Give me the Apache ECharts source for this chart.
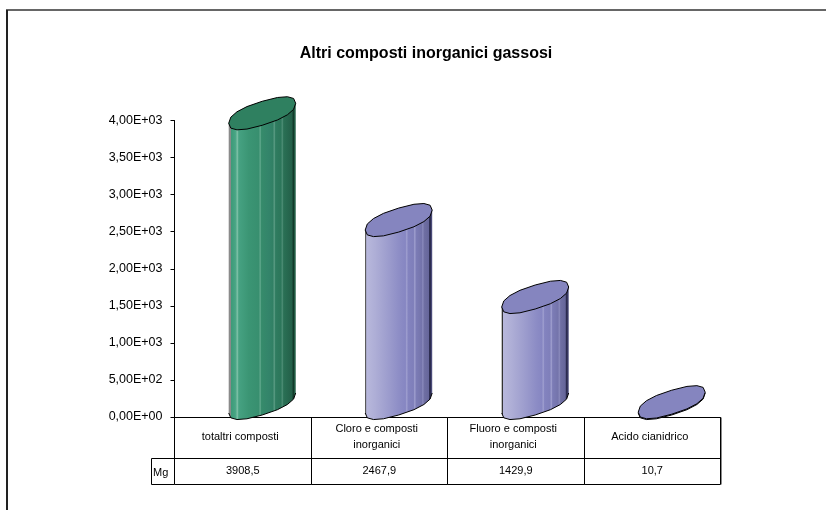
<!DOCTYPE html>
<html>
<head>
<meta charset="utf-8">
<style>html,body{margin:0;padding:0;background:#fff}#c{width:826px;height:510px}</style>
<script src="https://cdn.jsdelivr.net/npm/echarts@6/dist/echarts.min.js"></script>
</head>
<body>
<div id="c"></div>
<script>
const titleText = 'Altri composti inorganici gassosi';
const categories = ['totaltri composti', 'Cloro e composti\ninorganici', 'Fluoro e composti\ninorganici', 'Acido cianidrico'];
const values = [3908.5, 2467.9, 1429.9, 10.7];
const tableValues = ['3908,5', '2467,9', '1429,9', '10,7'];
const unitLabel = 'Mg';
const yTicks = ['0,00E+00', '5,00E+02', '1,00E+03', '1,50E+03', '2,00E+03', '2,50E+03', '3,00E+03', '3,50E+03', '4,00E+03'];

const FONT = '"Liberation Sans", Arial, sans-serif';
const greenStyle = {
  top: '#2f8060',
  stops: [[0,'#8a8a8a'],[0.03,'#8a8a8a'],[0.035,'#3c9a78'],[0.1,'#48a584'],[0.13,'#7cc0a6'],[0.15,'#46a282'],[0.3,'#3b9574'],[0.45,'#388f6f'],[0.47,'#62a98e'],[0.49,'#368b6b'],[0.6,'#33846a'],[0.66,'#318064'],[0.68,'#5c9d85'],[0.7,'#2f7c60'],[0.78,'#2c765a'],[0.8,'#4e8e76'],[0.82,'#2a7055'],[0.95,'#235f48'],[0.955,'#123a2a'],[0.975,'#123a2a'],[0.98,'#1f5a42'],[1,'#1f5a42']]
};
const purpleStyle = {
  top: '#8585bf',
  stops: [[0,'#333'],[0.015,'#333'],[0.02,'#b8b8dc'],[0.15,'#aeaed6'],[0.35,'#9c9ccd'],[0.52,'#8c8cc5'],[0.6,'#8686c2'],[0.62,'#a0a0d0'],[0.64,'#8383bf'],[0.72,'#7f7fba'],[0.74,'#a0a0cf'],[0.76,'#7c7cb6'],[0.84,'#7474ab'],[0.86,'#8a8abc'],[0.88,'#6f6fa3'],[0.95,'#66669a'],[0.96,'#2c2c50'],[0.98,'#2c2c50'],[0.985,'#4a4a78'],[1,'#4a4a78']]
};

const HALF_W = 33.5;      // cylinder half width
const SKEW = 10;          // tilt of the ellipse
const SEMI = 12;          // ellipse thickness
const DEPTH = 14;         // depth shift of base centre above the floor
const SHIFT = 0.1425;     // horizontal depth shift as band fraction
const SEGS = 16;
const ROUND = 0.82;       // exponent that squares the ellipse off a little

function pw(v) { return Math.sign(v) * Math.pow(Math.abs(v), ROUND); }

function ellipsePts(cx, cy) {
  const pts = [];
  for (let i = 0; i < SEGS; i++) {
    const t = i / SEGS * Math.PI * 2;
    const c = pw(Math.cos(t));
    const n = pw(Math.sin(t));
    pts.push([cx + HALF_W * c, cy - SKEW * c + SEMI * n]);
  }
  return pts;
}

function renderCylinder(params, api) {
  const idx = api.value(0);
  const base = api.coord([idx, 0]);
  const top = api.coord([idx, api.value(1)]);
  const band = api.size([1, 0])[0];
  const cx = base[0] + band * SHIFT;
  const by = base[1] - DEPTH;
  const ty = top[1] - DEPTH;
  const s = idx === 0 ? greenStyle : purpleStyle;
  const lower = ellipsePts(cx, by).slice(0, Math.floor(SEGS / 2) + 1);
  const body = [[cx + HALF_W, ty - SKEW]].concat(lower).concat([[cx - HALF_W, ty + SKEW]]);
  const fill = new echarts.graphic.LinearGradient(0, 0, 1, 0, s.stops.map(a => ({offset: a[0], color: a[1]})));
  return {
    type: 'group',
    children: [
      {type: 'polygon', shape: {points: body}, style: {fill: fill, stroke: null}},
      {type: 'polyline', shape: {points: lower}, style: {fill: null, stroke: '#000', lineWidth: 1}},
      {type: 'polygon', shape: {points: ellipsePts(cx, ty)}, style: {fill: s.top, stroke: '#000', lineWidth: 1}}
    ]
  };
}

function renderTable(params, api) {
  const idx = api.value(0);
  const p = api.coord([idx, 0]);
  const band = api.size([1, 0])[0];
  const left = Math.floor(p[0] - band / 2) + 0.5;
  const right = Math.floor(p[0] + band / 2) + 0.5;
  const y0 = Math.floor(p[1]) + 0.5;
  const line = (x1, y1, x2, y2, c) => ({type: 'line', shape: {x1, y1, x2, y2}, style: {stroke: c || '#000', lineWidth: 1}});
  const children = [
    line(left, y0, left, y0 + 67),
    line(right, y0, right, y0 + 67),
    line(left, y0 + 41, right, y0 + 41),
    line(left, y0 + 67, right, y0 + 67),
    {type: 'text', style: {text: tableValues[idx], x: p[0], y: y0 + 53, align: 'center', verticalAlign: 'middle', font: '11px ' + FONT, fill: '#000'}}
  ];
  if (idx === 0) {
    children.push(
      line(left - 23, y0 + 41, left, y0 + 41),
      line(left - 23, y0 + 67, left, y0 + 67),
      line(left - 23, y0 + 41, left - 23, y0 + 67),
      {type: 'text', style: {text: unitLabel, x: left - 21.5, y: y0 + 55, align: 'left', verticalAlign: 'middle', font: '11px ' + FONT, fill: '#000'}}
    );
  }
  if (idx === categories.length - 1) {
    children.push(line(right + 1, y0, right + 1, y0 + 67, '#8a8a8a'));
  }
  return {type: 'group', children};
}

const chart = echarts.init(document.getElementById('c'), null, {renderer: 'canvas'});
chart.setOption({
  animation: false,
  backgroundColor: '#fff',
  title: {
    text: titleText, left: 421, top: 41, textAlign: 'center',
    textStyle: {fontFamily: FONT, fontSize: 16, fontWeight: 'bold', color: '#000'}
  },
  grid: {left: 174.5, right: 105.5, top: 120.5, bottom: 93},
  xAxis: {
    type: 'category', data: categories,
    axisLine: {lineStyle: {color: '#000', width: 1}},
    axisTick: {show: false},
    axisLabel: {interval: 0, margin: 20, verticalAlign: 'middle', lineHeight: 16, padding: [0, 5, 0, 0], fontFamily: FONT, fontSize: 11, color: '#000'}
  },
  yAxis: {
    type: 'value', min: 0, max: 4000, interval: 500,
    axisLine: {show: true, lineStyle: {color: '#000', width: 1}},
    axisTick: {show: true, length: 4, lineStyle: {color: '#000', width: 1}},
    splitLine: {show: false},
    axisLabel: {margin: 12, fontFamily: FONT, fontSize: 12.5, color: '#000', formatter: (v) => yTicks[Math.round(v / 500)]}
  },
  series: [
    {type: 'custom', renderItem: renderTable, data: categories.map((c, i) => [i, 0]), encode: {x: 0, y: 1}, silent: true, z: 1},
    {type: 'custom', renderItem: renderCylinder, data: values.map((v, i) => [i, v]), encode: {x: 0, y: 1}, z: 3}
  ],
  graphic: [
    {type: 'line', shape: {x1: 6, y1: 10, x2: 826, y2: 10}, style: {stroke: '#666', lineWidth: 2}, silent: true},
    {type: 'line', shape: {x1: 7, y1: 10, x2: 7, y2: 510}, style: {stroke: '#222', lineWidth: 2}, silent: true}
  ]
});
</script>
</body>
</html>
